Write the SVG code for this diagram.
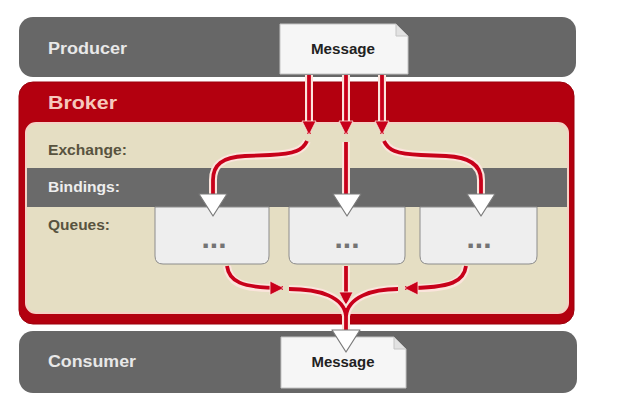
<svg xmlns="http://www.w3.org/2000/svg" width="640" height="410" viewBox="0 0 640 410">
  <defs>
    <style>
      .lbl { font-family: "Liberation Sans", Arial, sans-serif; font-weight: bold; }
      .bar { fill: #676767; }
      .bar-lbl { fill: #e8e8e8; font-size: 16px; }
      .sec-lbl { fill: #58533f; font-size: 14px; }
      .msg { fill: #f6f6f6; stroke: #c4c4c4; stroke-width: 1; }
      .fold { fill: #e2e2e2; stroke: #c4c4c4; stroke-width: 1; }
      .msg-lbl { fill: #222; font-size: 14px; text-anchor: middle; }
      .queue { fill: #eeeeee; stroke: #8c8c8c; stroke-width: 1; }
      .dots { fill: #747474; font-size: 30px; text-anchor: middle; }
      .tri { fill: #ffffff; stroke: #7a7a7a; stroke-width: 1.2; stroke-linejoin: round; }
      .halo { fill: none; stroke: #fbe4dc; stroke-width: 8; stroke-linecap: butt; }
      .flow { fill: none; stroke: #c8001a; stroke-width: 3.8; }
    </style>
    <marker id="head" markerUnits="userSpaceOnUse" markerWidth="20" markerHeight="20" refX="14" refY="8" orient="auto">
      <path d="M1,1 L15,8 L1,15 Z" fill="#c8001a" stroke="#fbe4dc" stroke-width="0.8" stroke-linejoin="round"/>
    </marker>
  </defs>

  <!-- Producer -->
  <g id="producer">
    <rect class="bar" x="19" y="17" width="557" height="60" rx="14"/>
    <text class="lbl bar-lbl" x="48" y="54" textLength="79" lengthAdjust="spacingAndGlyphs">Producer</text>
  </g>

  <!-- Broker -->
  <g id="broker">
    <rect x="19" y="82" width="555" height="242" rx="14" fill="#b3000f" stroke="#9c000c" stroke-width="1"/>
    <text class="lbl" x="48" y="109" font-size="19" fill="#f6c8bc" textLength="69" lengthAdjust="spacingAndGlyphs">Broker</text>
    <rect x="26" y="123" width="542" height="190" rx="10" fill="#e5dec3" stroke="#f4d2c6" stroke-width="2"/>
  </g>

  <g id="exchange">
    <text class="lbl sec-lbl" x="48" y="155" textLength="79" lengthAdjust="spacingAndGlyphs">Exchange:</text>
  </g>

  <g id="bindings">
    <rect x="27" y="168" width="540" height="39" fill="#6a6a6a"/>
    <text class="lbl" x="48" y="192" font-size="14" fill="#eeeeee" textLength="72" lengthAdjust="spacingAndGlyphs">Bindings:</text>
  </g>

  <g id="queues">
    <text class="lbl sec-lbl" x="48" y="230" textLength="62" lengthAdjust="spacingAndGlyphs">Queues:</text>
  </g>

  <g id="queue1">
    <path class="queue" d="M155,207 H269 V256 Q269,264 261,264 H163 Q155,264 155,256 Z"/>
    <text class="lbl dots" x="214" y="248">...</text>
  </g>
  <g id="queue2">
    <path class="queue" d="M289,207 H405 V256 Q405,264 397,264 H297 Q289,264 289,256 Z"/>
    <text class="lbl dots" x="347" y="248">...</text>
  </g>
  <g id="queue3">
    <path class="queue" d="M420,207 H537 V256 Q537,264 529,264 H428 Q420,264 420,256 Z"/>
    <text class="lbl dots" x="479" y="248">...</text>
  </g>

  <!-- Consumer -->
  <g id="consumer">
    <rect class="bar" x="19" y="331" width="558" height="62" rx="14"/>
    <text class="lbl bar-lbl" x="48" y="367" textLength="88" lengthAdjust="spacingAndGlyphs">Consumer</text>
  </g>

  <!-- Messages -->
  <g id="message-in">
    <path class="msg" d="M280,24 H396 L408,36 V74 H280 Z"/>
    <path class="fold" d="M396,24 V36 H408 Z"/>
    <text class="lbl msg-lbl" x="343" y="54" textLength="64" lengthAdjust="spacingAndGlyphs">Message</text>
  </g>

  <g id="connectors">
    <!-- producer to exchange -->
    <path class="halo" d="M309,75 V122 M346,75 V122 M382,75 V122"/>
    <path class="flow" d="M309,75 V134" marker-end="url(#head)"/>
    <path class="flow" d="M346,75 V134" marker-end="url(#head)"/>
    <path class="flow" d="M382,75 V134" marker-end="url(#head)"/>
    <!-- exchange to queues -->
    <path class="halo" d="M307,141 C303,150 295,154 270,155 L245,156 C222,157 213,165 213,180 V196"/>
    <path class="flow" d="M307,141 C303,150 295,154 270,155 L245,156 C222,157 213,165 213,180 V196"/>
    <path class="halo" d="M346,142 V196"/>
    <path class="flow" d="M346,142 V196"/>
    <path class="halo" d="M384,141 C388,150 396,154 421,155 L446,156 C469,157 481,165 481,180 V196"/>
    <path class="flow" d="M384,141 C388,150 396,154 421,155 L446,156 C469,157 481,165 481,180 V196"/>
    <!-- queues to consumer -->
    <path class="halo" d="M227,266 C229,281 240,288 270,288"/>
    <path class="flow" d="M227,266 C229,281 240,288 283,288" marker-end="url(#head)"/>
    <path class="halo" d="M466,266 C464,281 453,288 418,288"/>
    <path class="flow" d="M466,266 C464,281 453,288 405,288" marker-end="url(#head)"/>
    <path class="halo" d="M346,266 V292"/>
    <path class="flow" d="M346,266 V305" marker-end="url(#head)"/>
    <path class="halo" d="M289,289 C320,289 344,297 346,316 M398,289 C372,289 348,297 346,316 M346,310 V334"/>
    <path class="flow" d="M289,289 C320,289 344,297 346,316"/>
    <path class="flow" d="M398,289 C372,289 348,297 346,316"/>
    <path class="flow" d="M346,308 V334"/>
  </g>

  <!-- binding triangles -->
  <g id="binding-heads">
    <path class="tri" d="M199,194 H227 L213,216 Z"/>
    <path class="tri" d="M333,194 H361 L347,216 Z"/>
    <path class="tri" d="M467,194 H495 L481,216 Z"/>
  </g>

  <g id="message-out">
    <path class="msg" d="M281,337 H394 L406,349 V388 H281 Z"/>
    <path class="fold" d="M394,337 V349 H406 Z"/>
    <text class="lbl msg-lbl" x="343" y="367" textLength="63" lengthAdjust="spacingAndGlyphs">Message</text>
    <path class="tri" d="M332,330 H360 L346,352 Z"/>
  </g>
</svg>
